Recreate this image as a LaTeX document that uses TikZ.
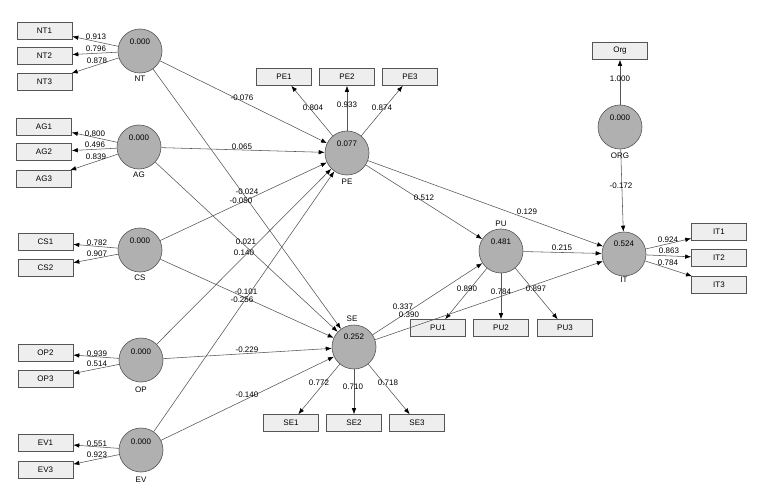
\documentclass[tikz,border=0pt]{standalone}
\usepackage{fontspec}
\setmainfont{Liberation Sans}
\usetikzlibrary{arrows.meta}
\definecolor{lvfill}{RGB}{176,176,176}
\definecolor{edgec}{RGB}{85,85,85}
\definecolor{boxf}{RGB}{238,238,238}
\newcommand{\fsz}{\fontsize{8}{9}\selectfont}
\begin{document}
\begin{tikzpicture}[x=1pt,y=-1pt,
  lv/.style={circle,draw=edgec,fill=lvfill,minimum size=44pt,inner sep=0pt,line width=0.6pt},
  mv/.style={rectangle,draw=edgec,fill=boxf,minimum width=55pt,minimum height=17pt,inner sep=0pt,line width=0.6pt,font=\fsz},
  lbl/.style={font=\fsz,inner sep=0pt},
  arr/.style={draw=edgec,line width=0.55pt,-{Latex[length=6pt,width=4.5pt,color=black]}}]
\fill[white] (0,0) rectangle (758,492);
\useasboundingbox (0,0) rectangle (758,492);
% latent variables
\node[lv] (NT) at (140,51) {};
\node[lv] (AG) at (139,147) {};
\node[lv] (CS) at (140,250) {};
\node[lv] (OP) at (141,360) {};
\node[lv] (EV) at (141,450) {};
\node[lv] (PE) at (347,153) {};
\node[lv] (SE) at (354,347) {};
\node[lv] (PU) at (501,251) {};
\node[lv] (IT) at (624,254) {};
\node[lv] (ORG) at (620,127) {};
% indicators
\node[mv] (NT1) at (44.5,30.5) {NT1};
\node[mv] (NT2) at (44.5,56) {NT2};
\node[mv] (NT3) at (44.5,82) {NT3};
\node[mv] (AG1) at (44,126.5) {AG1};
\node[mv] (AG2) at (44,152) {AG2};
\node[mv] (AG3) at (44,179) {AG3};
\node[mv] (CS1) at (45.5,242) {CS1};
\node[mv] (CS2) at (45.5,268) {CS2};
\node[mv] (OP2) at (45.5,353) {OP2};
\node[mv] (OP3) at (45.5,379) {OP3};
\node[mv] (EV1) at (45.5,443) {EV1};
\node[mv] (EV3) at (45.5,470) {EV3};
\node[mv] (PE1) at (284,77) {PE1};
\node[mv] (PE2) at (347,77) {PE2};
\node[mv] (PE3) at (410,77) {PE3};
\node[mv] (SE1) at (291,423) {SE1};
\node[mv] (SE2) at (354,423) {SE2};
\node[mv] (SE3) at (417,423) {SE3};
\node[mv] (PU1) at (438,328) {PU1};
\node[mv] (PU2) at (501,328) {PU2};
\node[mv] (PU3) at (565,328) {PU3};
\node[mv] (Org) at (620,51) {Org};
\node[mv] (IT1) at (719,232) {IT1};
\node[mv] (IT2) at (719,258) {IT2};
\node[mv] (IT3) at (719,285) {IT3};
% measurement arrows
\foreach \a/\b in {NT/NT1,NT/NT2,NT/NT3,AG/AG1,AG/AG2,AG/AG3,CS/CS1,CS/CS2,OP/OP2,OP/OP3,EV/EV1,EV/EV3,PE/PE1,PE/PE2,PE/PE3,SE/SE1,SE/SE2,SE/SE3,PU/PU1,PU/PU2,PU/PU3,ORG/Org,IT/IT1,IT/IT2,IT/IT3}
  \draw[arr] (\a) -- (\b);
% structural arrows
\foreach \a/\b in {NT/PE,NT/SE,AG/PE,AG/SE,CS/PE,CS/SE,OP/PE,OP/SE,EV/PE,EV/SE,PE/PU,PE/IT,SE/PU,SE/IT,PU/IT,ORG/IT}
  \draw[arr] (\a) -- (\b);
% values in circles and names
\node[lbl] (NTv) at (140,42) {0.000};
\node[lbl] (NTn) at (140,79) {NT};
\node[lbl] (AGv) at (139,138) {0.000};
\node[lbl] (AGn) at (139,175) {AG};
\node[lbl] (CSv) at (140,241) {0.000};
\node[lbl] (CSn) at (140,278) {CS};
\node[lbl] (OPv) at (141,352) {0.000};
\node[lbl] (OPn) at (141,390) {OP};
\node[lbl] (EVv) at (141,442) {0.000};
\node[lbl] (EVn) at (141,480) {EV};
\node[lbl] (PEv) at (347,144) {0.077};
\node[lbl] (PEn) at (347,182) {PE};
\node[lbl] (SEv) at (354,337) {0.252};
\node[lbl] (SEn) at (352,319) {SE};
\node[lbl] (PUv) at (501,242) {0.481};
\node[lbl] (PUn) at (501,224) {PU};
\node[lbl] (ITv) at (624,244) {0.524};
\node[lbl] (ITn) at (624,280) {IT};
\node[lbl] (ORGv) at (620,118) {0.000};
\node[lbl] (ORGn) at (620,156) {ORG};
% loadings
\node[lbl] (l1) at (96,37) {0.913};
\node[lbl] (l2) at (96,49) {0.796};
\node[lbl] (l3) at (97,61) {0.878};
\node[lbl] (l4) at (95,134) {0.800};
\node[lbl] (l5) at (95,145) {0.496};
\node[lbl] (l6) at (96,157) {0.839};
\node[lbl] (l7) at (97,243) {0.782};
\node[lbl] (l8) at (97,254) {0.907};
\node[lbl] (l9) at (97,354) {0.939};
\node[lbl] (l10) at (97,364) {0.514};
\node[lbl] (l11) at (97,444) {0.551};
\node[lbl] (l12) at (97,455) {0.923};
\node[lbl] (l13) at (313,108) {0.804};
\node[lbl] (l14) at (347,105) {0.933};
\node[lbl] (l15) at (382,108) {0.874};
\node[lbl] (l16) at (319,383) {0.772};
\node[lbl] (l17) at (353,387) {0.710};
\node[lbl] (l18) at (388,383) {0.718};
\node[lbl] (l19) at (467,289) {0.890};
\node[lbl] (l20) at (501,292) {0.784};
\node[lbl] (l21) at (536,289) {0.897};
\node[lbl] (l22) at (668,240) {0.924};
\node[lbl] (l23) at (669,251) {0.863};
\node[lbl] (l24) at (668,263) {0.784};
\node[lbl] (l25) at (620,79) {1.000};
% path coefficients
\node[lbl] (p1) at (242,98) {-0.076};
\node[lbl] (p2) at (242,147) {0.065};
\node[lbl] (p3) at (247,191.5) {-0.024};
\node[lbl] (p4) at (241,200.5) {-0.050};
\node[lbl] (p5) at (246,242) {0.021};
\node[lbl] (p6) at (244,253) {0.140};
\node[lbl] (p7) at (246,292) {-0.101};
\node[lbl] (p8) at (242,300) {-0.256};
\node[lbl] (p9) at (247,350) {-0.229};
\node[lbl] (p10) at (247,395) {-0.140};
\node[lbl] (p11) at (424,198) {0.512};
\node[lbl] (p12) at (527,212) {0.129};
\node[lbl] (p13) at (562,248) {0.215};
\node[lbl] (p14) at (403,306.5) {0.337};
\node[lbl] (p15) at (409,314.5) {0.390};
\node[lbl] (p16) at (621,186) {-0.172};
\end{tikzpicture}
\end{document}
